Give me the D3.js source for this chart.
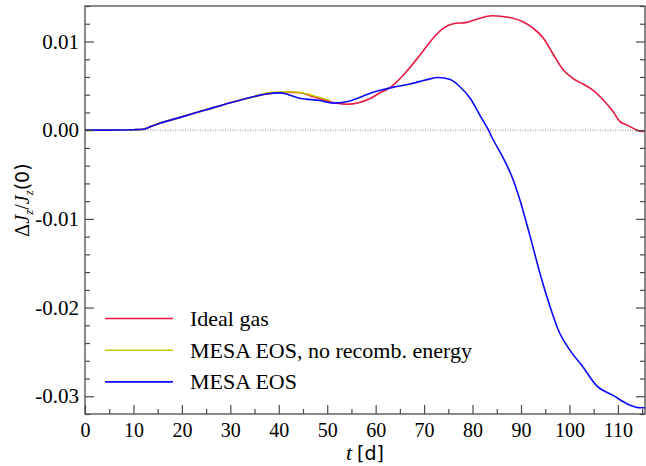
<!DOCTYPE html>
<html>
<head>
<meta charset="utf-8">
<script src="https://cdn.jsdelivr.net/npm/d3@7"></script>
<style>
  html, body { margin: 0; padding: 0; background: #fff; }
  svg { display: block; }
  .serif { font-family: "Liberation Serif", "Times New Roman", Times, serif; }
  .sans { font-family: "DejaVu Sans", sans-serif; }
</style>
</head>
<body>
<svg id="chart" width="646" height="466"></svg>
<script>
// Time (days) and relative change of angular momentum for each equation of state
const idealT = [0, 5, 10, 12, 13.5, 15, 20, 25, 30, 35, 38, 41, 44, 47, 50, 52, 54, 56.5, 59, 61, 63, 65.7, 69.2, 71.9, 74, 76, 78.8, 80.9, 84, 87.7, 90.5, 92.5, 94.6, 96.7, 98.7, 100.8, 102.8, 104.9, 107, 109, 110.4, 111.8, 113.9, 114.9, 115.6];
const idealV = [0, 0, 0.00005, 0.0001, 0.0004, 0.0007, 0.0015, 0.0023, 0.0031, 0.0038, 0.0041, 0.00425, 0.00424, 0.0038, 0.0033, 0.00305, 0.00293, 0.0031, 0.0036, 0.00425, 0.0048, 0.0062, 0.0085, 0.0104, 0.0115, 0.0120, 0.01215, 0.0125, 0.0129, 0.0127, 0.0122, 0.0115, 0.0104, 0.0085, 0.0068, 0.0058, 0.0052, 0.0045, 0.0034, 0.0021, 0.001, 0.0006, 0.00003, -0.00015, -0.0001];

const noRecT = [0, 5, 10, 12, 13.5, 15, 20, 25, 30, 35, 37.5, 40, 43, 45, 47, 49, 50.6];
const noRecV = [0, 0, 0.00005, 0.0001, 0.0004, 0.0007, 0.0015, 0.0023, 0.0031, 0.0038, 0.0042, 0.0043, 0.0043, 0.0042, 0.0039, 0.0036, 0.00335];

const mesaT = [0, 5, 10, 12, 13.5, 15, 20, 25, 30, 35, 37.5, 40.3, 42, 44.4, 48.5, 51.2, 54, 56.8, 59, 61, 63.7, 67.1, 70.6, 72.9, 75.4, 77.4, 79.5, 81.5, 83.3, 84, 86.4, 88.1, 89.8, 91.9, 93.9, 96, 98, 100.1, 102.8, 105.6, 109, 112.5, 114.5, 115.6];
const mesaV = [0, 0, 0.00005, 0.0001, 0.0004, 0.0007, 0.0015, 0.0023, 0.0031, 0.0038, 0.0041, 0.0042, 0.0040, 0.0036, 0.00334, 0.00305, 0.0032, 0.0037, 0.0042, 0.0045, 0.00485, 0.0052, 0.0057, 0.00594, 0.0057, 0.0049, 0.0036, 0.0017, 0, -0.0008, -0.0032, -0.0052, -0.0079, -0.012, -0.0161, -0.0199, -0.0229, -0.0248, -0.0267, -0.0288, -0.0299, -0.0310, -0.0313, -0.0313];

const seriesNames = ["Ideal gas", "MESA EOS, no recomb. energy", "MESA EOS"];
const seriesColors = ["#e8173f", "#c8c400", "#0a0aff"];

const xTicks = [0, 10, 20, 30, 40, 50, 60, 70, 80, 90, 100, 110];
const yTicks = [-0.03, -0.02, -0.01, 0.00, 0.01];
const yTickLabels = ["-0.03", "-0.02", "-0.01", "0.00", "0.01"];

const svg = d3.select("#chart");
const m = { left: 85, right: 645, top: 6, bottom: 414 };

const x = d3.scaleLinear().domain([0, 115.6]).range([m.left, m.right]);
const y = d3.scaleLinear().domain([-0.032, 0.014]).range([m.bottom, m.top]);

const frameColor = "#4a4a4a";

// zero reference line
svg.append("line")
  .attr("x1", m.left).attr("x2", m.right)
  .attr("y1", y(0)).attr("y2", y(0))
  .attr("stroke", "#888").attr("stroke-width", 1)
  .attr("stroke-dasharray", "1,1.5");

// curves
const line = d3.line()
  .x(d => x(d[0])).y(d => y(d[1]))
  .curve(d3.curveMonotoneX);

const series = [
  d3.zip(idealT, idealV),
  d3.zip(noRecT, noRecV),
  d3.zip(mesaT, mesaV)
];

const plot = svg.append("g");
plot.append("clipPath").attr("id", "clip")
  .append("rect").attr("x", m.left).attr("y", m.top)
  .attr("width", m.right - m.left).attr("height", m.bottom - m.top);

series.forEach((s, i) => {
  plot.append("path")
    .datum(s)
    .attr("clip-path", "url(#clip)")
    .attr("fill", "none")
    .attr("stroke", seriesColors[i])
    .attr("stroke-width", 1.6)
    .attr("stroke-linejoin", "round")
    .attr("d", line);
});

// axes: ticks point inward
const xMinor = d3.range(0, 116, 5).filter(v => v % 10 !== 0);
const yMinor = d3.range(-32, 15, 2).map(v => v / 1000).filter(v => Math.abs(Math.round(v * 1000)) % 10 !== 0);

const bottom = svg.append("g").attr("transform", `translate(0,${m.bottom})`);
bottom.call(d3.axisBottom(x).tickValues(xTicks).tickSizeInner(-9).tickSizeOuter(0).tickPadding(9).tickFormat(d3.format("d")));
bottom.append("g").call(d3.axisBottom(x).tickValues(xMinor).tickSizeInner(-5).tickSizeOuter(0).tickFormat(""));

const left = svg.append("g").attr("transform", `translate(${m.left},0)`);
left.call(d3.axisLeft(y).tickValues(yTicks).tickSizeInner(-9).tickSizeOuter(0).tickPadding(6)
  .tickFormat((d, i) => yTickLabels[i]));
left.append("g").call(d3.axisLeft(y).tickValues(yMinor).tickSizeInner(-5).tickSizeOuter(0).tickFormat(""));

const right = svg.append("g").attr("transform", `translate(${m.right},0)`);
right.call(d3.axisRight(y).tickValues(yTicks).tickSizeInner(-9).tickSizeOuter(0).tickFormat(""));
right.append("g").call(d3.axisRight(y).tickValues(yMinor).tickSizeInner(-5).tickSizeOuter(0).tickFormat(""));

svg.selectAll(".domain").remove();
svg.selectAll("g").attr("font-family", null).attr("font-size", null);
svg.selectAll(".tick line").attr("stroke", frameColor).attr("stroke-width", 1.2);
svg.selectAll(".tick text")
  .attr("class", "serif").style("font-size", "21px").attr("fill", "#000");
bottom.selectAll(".tick text").style("font-size", "20px");

// frame
svg.append("rect")
  .attr("x", m.left).attr("y", m.top)
  .attr("width", m.right - m.left).attr("height", m.bottom - m.top)
  .attr("fill", "none").attr("stroke", frameColor).attr("stroke-width", 1.3);

// axis titles
const xt = svg.append("text")
  .attr("x", (m.left + m.right) / 2).attr("y", 459.5)
  .attr("text-anchor", "middle").style("font-size", "19px").attr("fill", "#000");
xt.append("tspan").attr("class", "serif").style("font-style", "italic").style("font-size", "22px").text("t");
xt.append("tspan").attr("class", "sans").attr("dx", 5).text("[d]");

const yt = svg.append("text")
  .attr("transform", "translate(29,200) rotate(-90)")
  .attr("text-anchor", "middle").style("font-size", "20px").attr("fill", "#000");
yt.append("tspan").attr("class", "serif").text("Δ");
yt.append("tspan").attr("class", "serif").style("font-style", "italic").text("J");
yt.append("tspan").attr("class", "serif").style("font-style", "italic").style("font-size", "13px").attr("dy", 4).text("z");
yt.append("tspan").attr("class", "serif").attr("dy", -4).text("/");
yt.append("tspan").attr("class", "serif").style("font-style", "italic").text("J");
yt.append("tspan").attr("class", "serif").style("font-style", "italic").style("font-size", "13px").attr("dy", 4).text("z");
yt.append("tspan").attr("class", "sans").style("font-size", "19px").attr("dy", -4).text("(0)");

// legend
const legend = svg.append("g");
seriesNames.forEach((name, i) => {
  const ly = 318.5 + i * 31.7;
  legend.append("line")
    .attr("x1", 105).attr("x2", 173).attr("y1", ly).attr("y2", ly)
    .attr("stroke", seriesColors[i]).attr("stroke-width", 1.6);
  legend.append("text")
    .attr("x", 190).attr("y", ly + 7.5)
    .attr("class", "serif").style("font-size", "22px").attr("fill", "#000")
    .text(name);
});
</script>
</body>
</html>
